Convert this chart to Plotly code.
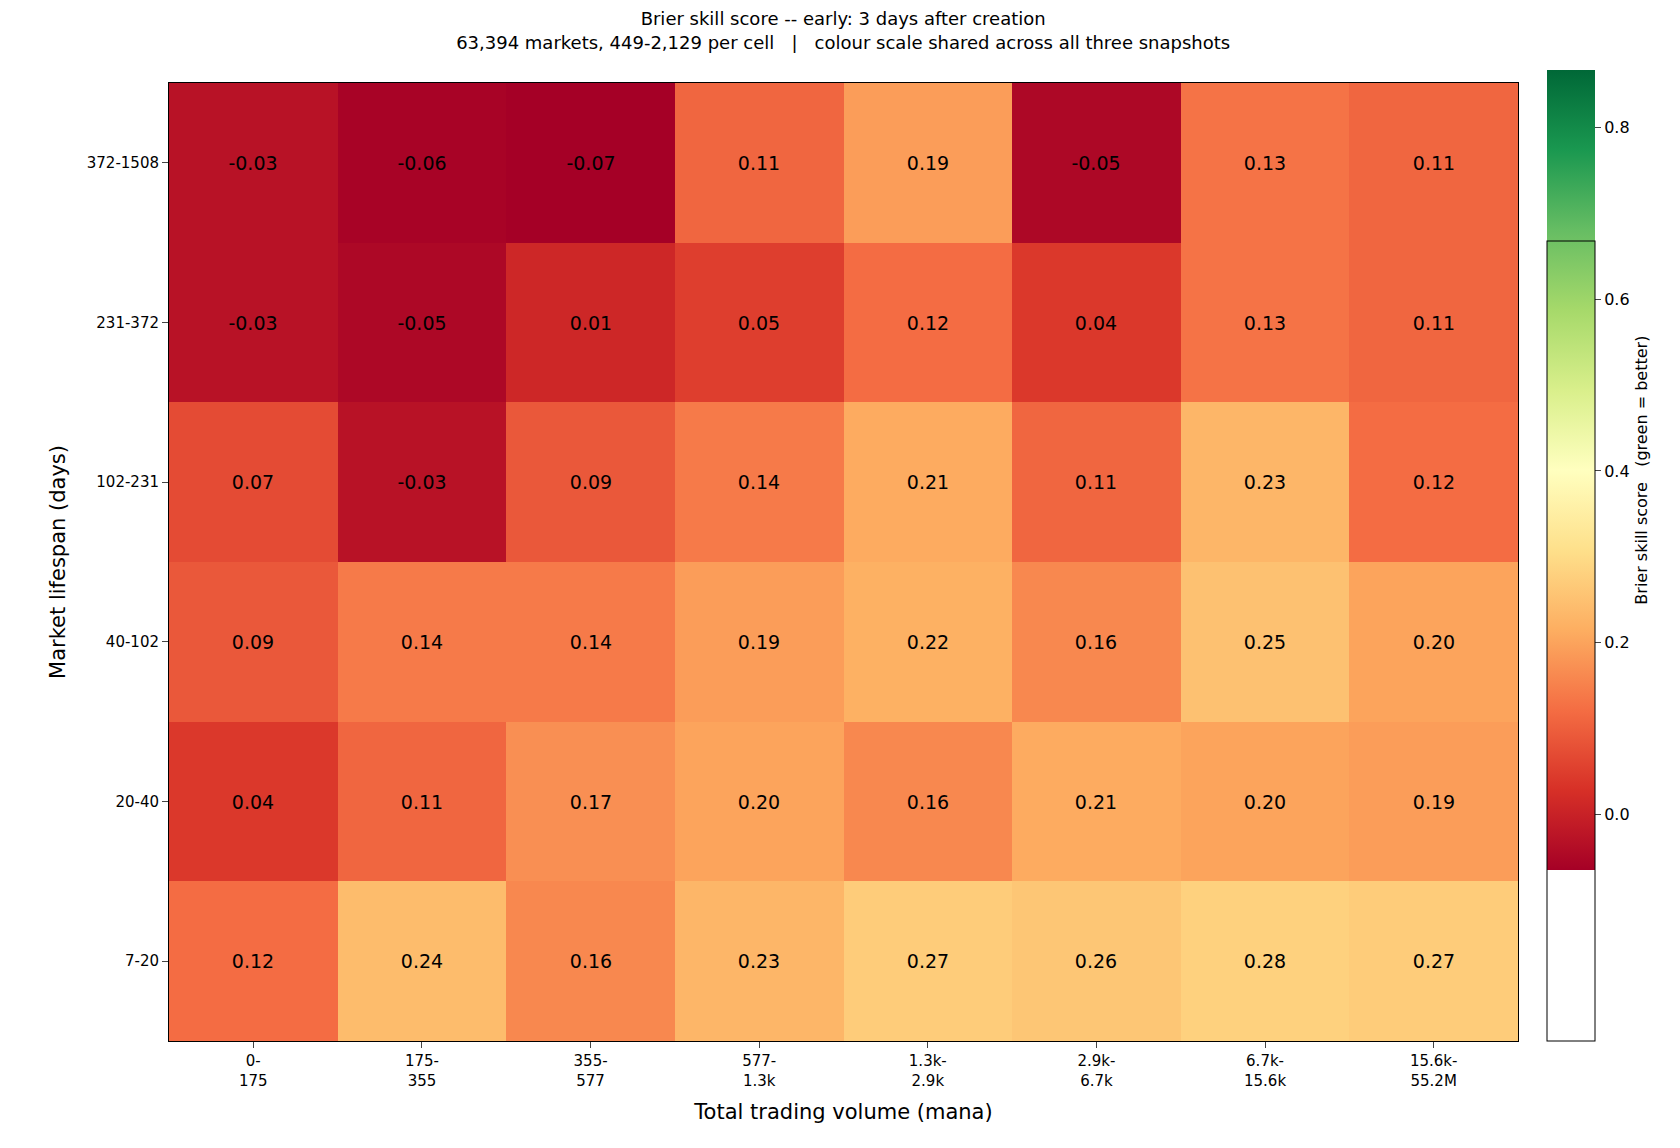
import plotly.graph_objects as go

x_labels = ["0-<br>175", "175-<br>355", "355-<br>577", "577-<br>1.3k", "1.3k-<br>2.9k", "2.9k-<br>6.7k", "6.7k-<br>15.6k", "15.6k-<br>55.2M"]
y_labels = ["7-20", "20-40", "40-102", "102-231", "231-372", "372-1508"]
z = [
    [0.12, 0.24, 0.16, 0.23, 0.27, 0.26, 0.28, 0.27],
    [0.04, 0.11, 0.17, 0.20, 0.16, 0.21, 0.20, 0.19],
    [0.09, 0.14, 0.14, 0.19, 0.22, 0.16, 0.25, 0.20],
    [0.07, -0.03, 0.09, 0.14, 0.21, 0.11, 0.23, 0.12],
    [-0.03, -0.05, 0.01, 0.05, 0.12, 0.04, 0.13, 0.11],
    [-0.03, -0.06, -0.07, 0.11, 0.19, -0.05, 0.13, 0.11],
]
text = [[f"{v:.2f}" for v in row] for row in z]

W, H = 1680, 1148
fig = go.Figure(go.Heatmap(
    z=z, x=list(range(8)), y=list(range(6)), text=text, texttemplate="%{text}",
    textfont=dict(size=19, color="black"),
    colorscale="RdYlGn", zmin=-0.065, zmax=0.867,
    colorbar=dict(thickness=48, thicknessmode="pixels", lenmode="fraction",
                  len=(970-70)/1078, xref="container", yref="container",
                  y=1-(970+70)/2/1078, yanchor="middle",
                  x=1436/1568, xanchor="left", xpad=0, ypad=0,
                  outlinewidth=1, outlinecolor="black",
                  tickvals=[0, 0.2, 0.4, 0.6, 0.8], ticktext=["0.0", "0.2", "0.4", "0.6", "0.8"],
                  ticks="outside", ticklen=6, tickfont=dict(size=16, color="black"),
                  title=dict(text="Brier skill score   (green = better)", side="right", font=dict(size=16, color="black"))),
))
fig.update_layout(
    width=W, height=H, plot_bgcolor="white", paper_bgcolor="white",
    font=dict(family="DejaVu Sans", color="black"),
    margin=dict(l=150/1568*W, r=W-1409/1568*W, t=70/1078*H, b=H-970/1078*H),
    title=dict(text="Brier skill score -- early: 3 days after creation<br>63,394 markets, 449-2,129 per cell   |   colour scale shared across all three snapshots",
               x=(150+1409)/2/1568, xanchor="center", y=0.985, yanchor="top", font=dict(size=18)),
)
fig.update_xaxes(tickvals=list(range(8)), ticktext=x_labels, ticks="outside", ticklen=6,
                 tickfont=dict(size=15), showline=True, linecolor="black", mirror=True,
                 title=dict(text="Total trading volume (mana)", font=dict(size=21)), range=[-0.5, 7.5])
fig.update_yaxes(tickvals=list(range(6)), ticktext=y_labels, ticks="outside", ticklen=6,
                 tickfont=dict(size=15), showline=True, linecolor="black", mirror=True,
                 title=dict(text="Market lifespan (days)", font=dict(size=21)), range=[-0.5, 5.5])
fig.write_html("out.html")
